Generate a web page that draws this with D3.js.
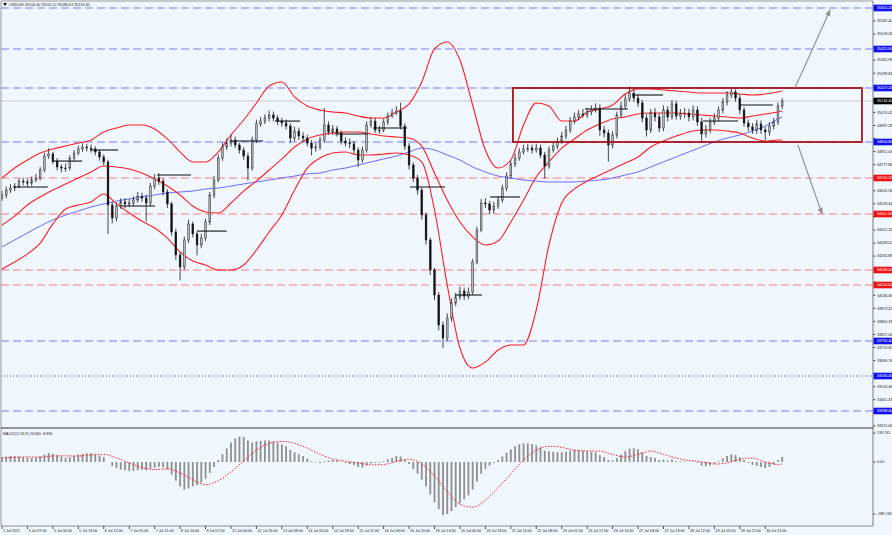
<!DOCTYPE html>
<html><head><meta charset="utf-8">
<script src="https://cdn.jsdelivr.net/npm/d3@7"></script>
<style>html,body{margin:0;padding:0;background:#f0f7fe;} svg{display:block;}</style>
</head><body><svg id="c" width="892" height="535"></svg>
<script>
const titleText = "US30,H1  35106.40 35150.12 35090.63 35134.40";
const macdTitle = "MACD(12,26,9) 23.660 -8.836";
const timeLabels = ["1 Jul 2021","2 Jul 07:00","5 Jul 00:00","5 Jul 16:00","6 Jul 12:00","7 Jul 05:00","7 Jul 21:00","8 Jul 14:00","9 Jul 07:00","12 Jul 00:00","12 Jul 16:00","13 Jul 09:00","14 Jul 02:00","14 Jul 18:00","15 Jul 11:00","16 Jul 04:00","16 Jul 20:00","19 Jul 13:00","20 Jul 06:00","20 Jul 23:00","21 Jul 15:00","22 Jul 08:00","23 Jul 01:00","23 Jul 17:00","26 Jul 10:00","27 Jul 03:00","27 Jul 19:00","28 Jul 12:00","29 Jul 05:00","29 Jul 21:00","30 Jul 14:00"];
const timeLabelIdx = [0,6,12,18,24,30,36,42,48,54,60,66,72,78,84,90,96,102,108,114,120,126,132,138,144,150,156,162,168,174,180];

const opens = [34590,34608,34636,34647,34658,34686,34681,34675,34692,34703,
34748,34826,34838,34798,34765,34759,34759,34815,34843,34866,
34877,34871,34866,34849,34821,34793,34552,34479,34546,34569,
34558,34563,34580,34602,34591,34563,34658,34703,34686,34625,
34558,34401,34272,34205,34356,34446,34390,34328,34367,34457,
34608,34692,34815,34877,34899,34916,34888,34860,34826,34759,
34916,35006,35022,35039,35056,35039,35022,35011,34994,34927,
34966,34938,34927,34899,34871,34877,34916,35000,34961,34978,
34955,34910,34899,34894,34860,34804,34860,35000,35022,34972,
34972,35017,35050,35067,35078,34994,34882,34776,34703,34636,
34496,34356,34188,34048,33880,33807,33919,34003,34037,34070,
34042,34065,34233,34412,34563,34558,34524,34546,34580,34647,
34714,34782,34815,34849,34866,34871,34860,34871,34832,34770,
34860,34882,34910,34938,34972,35022,35045,35062,35056,35073,
35084,35095,34972,34955,34888,34944,35056,35106,35146,35179,
35151,35123,35039,34972,35067,35045,34983,35084,35045,35118,
35050,35062,35067,35045,35084,35017,34950,34972,35017,35039,
35084,35129,35168,35185,35151,35084,35011,34989,34972,35006,
34972,34961,34994,35017,35106];
const highs = [34630,34655,34668,34675,34700,34705,34698,34712,34725,34765,
34845,34870,34850,34815,34780,34785,34830,34860,34885,34898,
34895,34890,34880,34860,34835,34805,34570,34565,34590,34590,
34585,34600,34625,34620,34610,34675,34725,34730,34700,34640,
34570,34420,34290,34375,34470,34460,34405,34390,34475,34625,
34715,34835,34900,34925,34945,34935,34900,34875,34845,34935,
35030,35045,35060,35080,35075,35055,35040,35030,35010,34990,
34985,34960,34945,34915,34900,34935,35095,35020,35000,34995,
34970,34930,34925,34910,34875,34880,35020,35045,35040,34995,
35035,35070,35090,35105,35125,35010,34900,34790,34720,34650,
34510,34370,34200,34065,33900,33945,34030,34060,34095,34090,
34090,34250,34430,34585,34590,34575,34570,34600,34665,34735,
34800,34840,34870,34890,34895,34890,34895,34890,34850,34880,
34905,34930,34960,34995,35045,35070,35085,35090,35095,35110,
35120,35115,34995,34975,34965,35075,35130,35170,35215,35200,
35170,35140,35060,35090,35095,35065,35110,35105,35140,35135,
35090,35095,35090,35110,35105,35040,35000,35040,35065,35105,
35150,35190,35210,35200,35170,35100,35030,35010,35030,35025,
34990,35015,35040,35125,35150];
const lows = [34575,34590,34620,34630,34645,34662,34655,34660,34680,34690,
34735,34810,34780,34745,34735,34738,34745,34800,34830,34850,
34852,34845,34830,34800,34775,34390,34450,34460,34530,34535,
34540,34545,34565,34570,34460,34545,34640,34665,34605,34535,
34380,34245,34130,34190,34340,34370,34270,34310,34350,34440,
34590,34680,34800,34860,34880,34870,34840,34805,34690,34745,
34900,34990,35005,35020,35020,35000,34990,34975,34900,34910,
34915,34905,34880,34830,34850,34860,34900,34945,34945,34935,
34890,34880,34870,34840,34765,34790,34845,34985,34955,34950,
34960,35000,35040,35055,34975,34860,34750,34680,34610,34470,
34330,34160,34020,33850,33750,33790,33900,33985,34020,34020,
34025,34050,34220,34400,34535,34500,34505,34530,34565,34630,
34700,34765,34800,34835,34850,34840,34845,34815,34700,34755,
34845,34865,34895,34920,34955,35005,35030,35040,35040,35055,
35070,34940,34930,34795,34870,34925,35040,35090,35130,35130,
35100,35015,34935,34955,35020,34960,34965,35020,35030,35030,
35030,35040,35020,35025,34995,34905,34930,34955,35000,35020,
35065,35110,35150,35130,35060,34990,34965,34950,34950,34950,
34915,34940,34975,35000,35090];
const closes = [34608,34636,34647,34658,34686,34681,34675,34692,34703,34748,
34826,34838,34798,34765,34759,34759,34815,34843,34866,34877,
34871,34866,34849,34821,34793,34552,34479,34546,34569,34558,
34563,34580,34602,34591,34563,34658,34703,34686,34625,34558,
34401,34272,34205,34356,34446,34390,34328,34367,34457,34608,
34692,34815,34877,34899,34916,34888,34860,34826,34759,34916,
35006,35022,35039,35056,35039,35022,35011,34994,34927,34966,
34938,34927,34899,34871,34877,34916,35000,34961,34978,34955,
34910,34899,34894,34860,34804,34860,35000,35022,34972,34972,
35017,35050,35067,35078,34994,34882,34776,34703,34636,34496,
34356,34188,34048,33880,33807,33919,34003,34037,34070,34042,
34065,34233,34412,34563,34558,34524,34546,34580,34647,34714,
34782,34815,34849,34866,34871,34860,34871,34832,34770,34860,
34882,34910,34938,34972,35022,35045,35062,35056,35073,35084,
35095,34972,34955,34888,34944,35056,35106,35146,35179,35151,
35123,35039,34972,35067,35045,34983,35084,35045,35118,35050,
35062,35067,35045,35084,35017,34950,34972,35017,35039,35084,
35129,35168,35185,35151,35084,35011,34989,34972,35006,34972,
34961,34994,35017,35106,35134];

// indicator lines, one value every 3 bars (last = final bar)
const bbUpper = [34703,34759,34804,34843,34866,34882,34899,34916,34961,34983,
35000,35000,34978,34922,34849,34793,34793,34849,34944,35028,
35123,35218,35241,35157,35106,35084,35073,35067,35050,35039,
35039,35073,35118,35241,35426,35465,35364,35112,34860,34759,
34804,35000,35123,35106,35022,35022,35073,35090,35112,35174,
35202,35202,35196,35190,35185,35179,35179,35179,35174,35168,
35174,35185,35190];
const bbMiddle = [34440,34490,34552,34597,34636,34670,34703,34737,34770,34765,
34754,34731,34698,34658,34608,34546,34513,34507,34563,34630,
34686,34748,34810,34877,34922,34944,34955,34961,34961,34950,
34938,34933,34927,34882,34731,34580,34457,34373,34328,34350,
34457,34580,34709,34793,34871,34922,34972,35006,35034,35045,
35062,35067,35067,35067,35062,35056,35050,35045,35039,35050,
35062,35073,35078];
const bbLower = [34194,34233,34278,34339,34446,34530,34552,34569,34614,34558,
34507,34462,34423,34367,34289,34238,34216,34188,34188,34216,
34300,34401,34496,34636,34759,34815,34843,34849,34832,34832,
34838,34843,34832,34793,34524,34104,33751,33639,33673,33740,
33768,33768,33964,34328,34563,34642,34686,34720,34754,34787,
34821,34877,34910,34938,34961,34972,34972,34966,34955,34927,
34910,34916,34916];
const maBlue = [34317,34356,34395,34434,34468,34496,34518,34541,34558,34574,
34586,34597,34608,34619,34625,34630,34642,34647,34658,34670,
34681,34692,34703,34714,34726,34731,34748,34759,34776,34793,
34810,34826,34849,34871,34860,34832,34804,34765,34737,34714,
34703,34692,34686,34681,34681,34681,34686,34692,34703,34720,
34737,34765,34793,34821,34849,34877,34905,34927,34944,34966,
34994,35034,35045];

const macdMain = [22,25,27,27,25,22,19,18,19,25,
34,40,37,31,25,19,22,28,34,37,
40,39,35,29,22,0,-18,-27,-34,-37,
-40,-40,-37,-35,-37,-31,-25,-22,-25,-34,
-57,-84,-110,-124,-119,-110,-104,-93,-75,-49,
-22,9,35,62,88,106,115,113,97,88,
93,95,97,97,93,87,80,71,55,44,
35,27,16,4,-2,-4,4,7,9,7,
2,-4,-9,-13,-22,-25,-16,-7,-4,-3,
4,13,19,27,25,11,-9,-31,-53,-80,
-110,-146,-181,-212,-239,-234,-221,-203,-186,-168,
-150,-124,-88,-53,-31,-16,-4,9,25,42,
57,71,80,84,84,80,75,66,51,49,
46,44,44,46,51,55,55,51,49,46,
44,31,22,9,7,18,34,49,60,62,
57,44,27,22,18,9,11,7,11,4,
3,2,0,3,-4,-16,-19,-16,-7,4,
16,27,34,31,22,9,-4,-13,-18,-22,
-27,-22,-11,9,23.66];
const macdSignal = [18,21,23,22,27,28,27,32,34,18,
-4,-25,-34,-31,-49,-80,-102,-84,-44,4,
53,84,93,84,62,35,13,4,-4,-13,
-11,2,13,-9,-62,-133,-190,-203,-172,-115,
-53,9,53,71,66,53,50,49,34,22,
35,49,35,18,7,2,-9,-4,13,18,
0,-11,-8.836];

const priceTicks = [35582.40,35509.26,35436.12,35362.98,35289.84,35216.70,35143.56,35070.42,34997.28,34924.14,
34851.00,34777.86,34704.72,34631.58,34558.44,34485.30,34412.16,34339.02,34265.88,34192.74,
34119.60,34046.46,33973.32,33900.18,33827.04,33753.90,33680.76,33607.62,33534.48,33461.34,
33388.20,33315.06];
const blueLevels = [35655.20,35425.60,35207.20,34904.80,33790.40,33398.40];
const blueDotLevels = [33594.40];
const redLevels = [34703.20,34501.60,34188.00,34104.00];
const lastPrice = 35134.40;
const macdTicks = [139.741, 0, -288.136];

const pivotStart = [3.1,11.8,20.8,28.3,36.6,46,53.8,64.4,78.5,87.5,96.2,106.8,115.1,137.5,148.6,165.3,174];
const pivotEnd   = [10.8,18.9,27.4,36.1,44.6,53,61.6,70.3,86.3,95.5,104.5,113.2,122.2,147.6,155.9,173.6,181.8];
const pivotPrice = [34653,34798,34860,34546,34720,34406,34910,35022,34950,34983,34653,34048,34597,35090,35168,35022,35112];

const boxIdx = [120.5, 202.8];
const boxPrice = [35207.2, 34904.8];
const arrowFromIdx = [187.0, 187.7];
const arrowFromPrice = [35207, 34888];
const arrowToIdx = [195.3, 193.4];
const arrowToPrice = [35644, 34502];

// ---------- drawing ----------
const W = 892, H = 535, axisX = 873, mainBottom = 428, macdBottom = 526;
const svg = d3.select('#c');
const N = closes.length;
const x = d3.scaleLinear().domain([0, N - 1]).range([2, 782.2]);
const y = d3.scaleLinear().domain([33303.2, 35700]).range([mainBottom, 0]);
const ym = d3.scaleLinear().domain([macdTicks[2], macdTicks[0]]).range([macdBottom, 431]);
const bandX = j => x(Math.min(j * 3, N - 1));
const FONT = "'Liberation Sans', Arial, sans-serif";
const fs = 3.7;

svg.append('rect').attr('width', W).attr('height', H).attr('fill', '#f0f7fe');
const defs = svg.append('defs');
defs.append('clipPath').attr('id', 'cm').append('rect').attr('x', 1).attr('y', 1).attr('width', axisX - 1).attr('height', mainBottom - 1);
defs.append('clipPath').attr('id', 'cd').append('rect').attr('x', 1).attr('y', mainBottom + 1).attr('width', axisX - 1).attr('height', macdBottom - mainBottom - 1);
defs.append('marker').attr('id', 'ah').attr('viewBox', '0 0 10 10').attr('refX', 9).attr('refY', 5)
  .attr('markerWidth', 6).attr('markerHeight', 6).attr('orient', 'auto')
  .append('path').attr('d', 'M0,1 L10,5 L0,9 Z').attr('fill', '#8d8d8d');

const main = svg.append('g').attr('clip-path', 'url(#cm)');

main.append('line').attr('x1', 1).attr('x2', axisX).attr('y1', y(lastPrice)).attr('y2', y(lastPrice))
  .attr('stroke', '#c9c9c9').attr('stroke-width', 1);

main.selectAll('.bl').data(blueLevels).join('line')
  .attr('x1', 1).attr('x2', axisX).attr('y1', d => y(d)).attr('y2', d => y(d))
  .attr('stroke', '#7a7af5').attr('stroke-width', 1).attr('stroke-dasharray', '8,4');
main.selectAll('.bd').data(blueDotLevels).join('line')
  .attr('x1', 1).attr('x2', axisX).attr('y1', d => y(d)).attr('y2', d => y(d))
  .attr('stroke', '#4b4bf0').attr('stroke-width', 1).attr('stroke-dasharray', '1,2');
main.selectAll('.rl').data(redLevels).join('line')
  .attr('x1', 1).attr('x2', axisX).attr('y1', d => y(d)).attr('y2', d => y(d))
  .attr('stroke', '#ff7a7a').attr('stroke-width', 1).attr('stroke-dasharray', '8,4');

const lineGen = d3.line().x((d, j) => bandX(j)).y(d => y(d)).curve(d3.curveMonotoneX);
main.append('path').attr('d', lineGen(maBlue)).attr('fill', 'none').attr('stroke', '#5a5aff').attr('stroke-width', 0.9);
[bbUpper, bbMiddle, bbLower].forEach(arr => {
  main.append('path').attr('d', lineGen(arr)).attr('fill', 'none').attr('stroke', '#ff1f1f').attr('stroke-width', 1.1);
});

const cg = main.append('g');
d3.range(N).forEach(i => {
  const cx = x(i);
  cg.append('line').attr('x1', cx).attr('x2', cx).attr('y1', y(highs[i])).attr('y2', y(lows[i]))
    .attr('stroke', '#1a1a1a').attr('stroke-width', 0.8);
  const top = y(Math.max(opens[i], closes[i])), bot = y(Math.min(opens[i], closes[i]));
  const up = closes[i] >= opens[i];
  cg.append('rect').attr('x', cx - 0.9).attr('y', top).attr('width', 1.8).attr('height', Math.max(0.8, bot - top))
    .attr('fill', up ? '#b8b8b8' : '#111').attr('stroke', '#1a1a1a').attr('stroke-width', 0.45);
});

main.selectAll('.pv').data(pivotPrice).join('line')
  .attr('x1', (d, k) => x(pivotStart[k])).attr('x2', (d, k) => x(pivotEnd[k]))
  .attr('y1', d => y(d)).attr('y2', d => y(d))
  .attr('stroke', '#111').attr('stroke-width', 1.1);

main.append('rect').attr('x', x(boxIdx[0])).attr('y', y(boxPrice[0]))
  .attr('width', x(boxIdx[1]) - x(boxIdx[0])).attr('height', y(boxPrice[1]) - y(boxPrice[0]))
  .attr('fill', 'none').attr('stroke', '#a8141a').attr('stroke-width', 1.8);

arrowFromIdx.forEach((a, k) => {
  main.append('line').attr('x1', x(a)).attr('y1', y(arrowFromPrice[k]))
    .attr('x2', x(arrowToIdx[k])).attr('y2', y(arrowToPrice[k]))
    .attr('stroke', '#8d8d8d').attr('stroke-width', 1.1).attr('marker-end', 'url(#ah)');
});

const md = svg.append('g').attr('clip-path', 'url(#cd)');
md.selectAll('.hb').data(macdMain).join('line')
  .attr('x1', (d, i) => x(i)).attr('x2', (d, i) => x(i))
  .attr('y1', ym(0)).attr('y2', d => ym(d))
  .attr('stroke', '#8f8f8f').attr('stroke-width', 1.8);
md.append('path').attr('d', d3.line().x((d, j) => bandX(j)).y(d => ym(d)).curve(d3.curveMonotoneX)(macdSignal))
  .attr('fill', 'none').attr('stroke', '#ff2020').attr('stroke-width', 1).attr('stroke-dasharray', '1.5,1.5');

const fr = svg.append('g').attr('fill', 'none');
fr.append('line').attr('x1', 1).attr('x2', axisX).attr('y1', 1).attr('y2', 1).attr('stroke', '#9a9a9a');
fr.append('line').attr('x1', 1).attr('x2', 1).attr('y1', 1).attr('y2', macdBottom).attr('stroke', '#9a9a9a');
fr.append('line').attr('x1', axisX).attr('x2', axisX).attr('y1', 1).attr('y2', macdBottom).attr('stroke', '#7a7a7a');
fr.append('line').attr('x1', 1).attr('x2', axisX).attr('y1', mainBottom).attr('y2', mainBottom).attr('stroke', '#333');
fr.append('line').attr('x1', 1).attr('x2', axisX).attr('y1', macdBottom).attr('y2', macdBottom).attr('stroke', '#8a8a8a');

// right price axis (regular labels hidden where a level tag sits, as in the terminal)
const tagged = blueLevels.concat(blueDotLevels, redLevels, [lastPrice]).map(p => y(p));
const ra = svg.append('g').attr('font-family', FONT).attr('font-size', fs);
priceTicks.forEach(p => {
  const yy = y(p);
  ra.append('line').attr('x1', axisX).attr('x2', axisX + 2.5).attr('y1', yy).attr('y2', yy).attr('stroke', '#555');
  if (tagged.some(t => Math.abs(t - yy) < 6.5)) return;
  ra.append('text').attr('x', axisX + 4).attr('y', yy).attr('dy', '0.35em').attr('fill', '#222').text(p.toFixed(2));
});
function tag(p, fill) {
  const yy = y(p);
  ra.append('rect').attr('x', axisX + 0.5).attr('y', yy - 3.3).attr('width', W - axisX - 0.5).attr('height', 6.6).attr('fill', fill);
  ra.append('text').attr('x', axisX + 4).attr('y', yy).attr('dy', '0.35em').attr('fill', '#fff').text(p.toFixed(2));
}
blueLevels.concat(blueDotLevels).forEach(p => tag(p, '#1010f0'));
redLevels.forEach(p => tag(p, '#f01010'));
tag(lastPrice, '#000');

macdTicks.forEach((v, k) => {
  const yy = k === 0 ? ym(v) + 2 : k === 2 ? ym(v) - 12 : ym(v);
  ra.append('line').attr('x1', axisX).attr('x2', axisX + 2.5).attr('y1', yy).attr('y2', yy).attr('stroke', '#555');
  ra.append('text').attr('x', axisX + 4).attr('y', yy).attr('dy', '0.35em').attr('fill', '#222').text(k === 1 ? '0.00' : String(v));
});

const ta = svg.append('g').attr('font-family', FONT).attr('font-size', fs);
timeLabels.forEach((t, k) => {
  const xx = x(timeLabelIdx[k]);
  ta.append('line').attr('x1', xx).attr('x2', xx).attr('y1', macdBottom).attr('y2', macdBottom + 3).attr('stroke', '#555');
  ta.append('text').attr('x', xx + 1).attr('y', macdBottom + 5.5).attr('fill', '#222').text(t);
});

svg.append('path').attr('d', 'M3,3 L7,3 L5,6 Z').attr('fill', '#111');
svg.append('text').attr('x', 9).attr('y', 5.8).attr('font-family', FONT).attr('font-size', fs).attr('fill', '#222').text(titleText);
svg.append('text').attr('x', 3).attr('y', mainBottom + 6.5).attr('font-family', FONT).attr('font-size', fs).attr('fill', '#222').text(macdTitle);
</script></body></html>
